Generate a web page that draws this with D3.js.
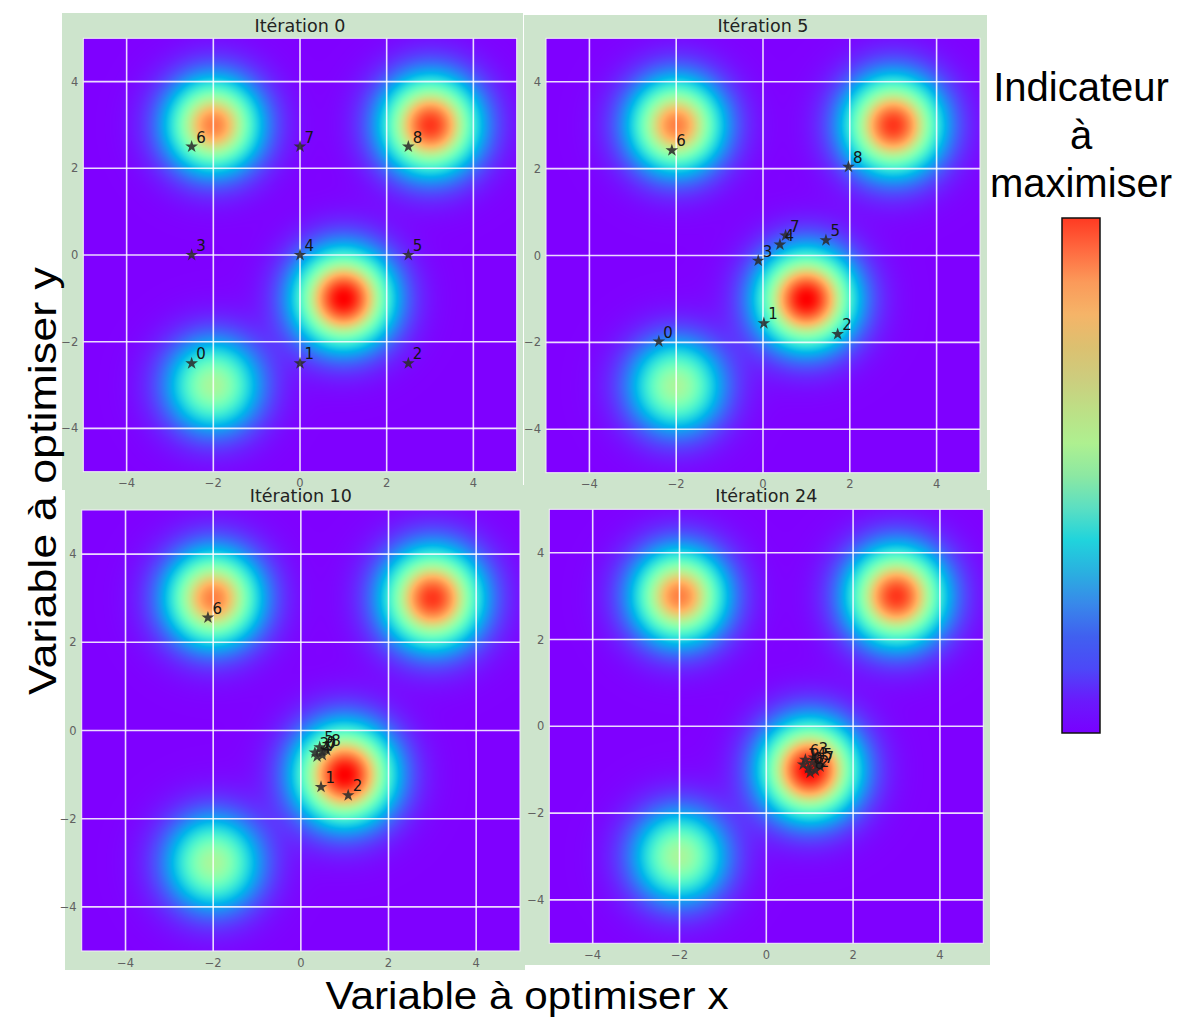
<!DOCTYPE html>
<html>
<head>
<meta charset="utf-8">
<script src="https://cdn.jsdelivr.net/npm/d3@7"></script>
<style>
  body { margin: 0; background: #fff; }
  svg { display: block; }
</style>
</head>
<body>
<svg id="chart" width="1179" height="1018"></svg>
<script>
// objective function: sum of gaussian bumps
const peakX = [1, 3, -2, -2];
const peakY = [-1, 3, 3, -3];
const peakAmp = [1.0, 0.93, 0.83, 0.58];
const peakSigma = [0.74, 0.74, 0.72, 0.72];

const iterations = ["Itération 0", "Itération 5", "Itération 10", "Itération 24"];
const pointLabels = ["0", "1", "2", "3", "4", "5", "6", "7", "8"];

// particle positions per iteration
const it0X = [-2.5, 0, 2.5, -2.5, 0, 2.5, -2.5, 0, 2.5];
const it0Y = [-2.5, -2.5, -2.5, 0, 0, 0, 2.5, 2.5, 2.5];
const it5X = [-2.40, 0.02, 1.72, -0.11, 0.39, 1.45, -2.10, 0.52, 1.97];
const it5Y = [-1.98, -1.56, -1.81, -0.12, 0.25, 0.35, 2.42, 0.46, 2.04];
const it10X = [0.48, 0.46, 1.08, 0.32, 0.37, 0.43, -2.12, 0.49, 0.59];
const it10Y = [-0.48, -1.28, -1.47, -0.50, -0.59, -0.38, 2.56, -0.56, -0.45];
const it24X = [0.97, 0.85, 1.13, 1.10, 1.06, 1.20, 0.90, 1.24, 1.01];
const it24Y = [-0.97, -0.88, -1.02, -0.72, -0.84, -0.88, -0.77, -0.93, -1.07];

const tickValues = [-4, -2, 0, 2, 4];
const domainMin = -5, domainMax = 5;

// colorbar colours, bottom -> top
const cbarColors = ["#7800ff", "#6a1afc", "#4c48f8", "#4060f0", "#3888ea", "#2ab0e0",
  "#20d4dc", "#5cdfc2", "#8ce8a2", "#aef090", "#bce086", "#cccd7e", "#dcc070",
  "#f5b468", "#fb9a5a", "#ff6a40", "#ff3a22"];

const allX = [it0X, it5X, it10X, it24X];
const allY = [it0Y, it5Y, it10Y, it24Y];

// panel boxes: background [x0,y0,x1,y1], plot area [x0,y0,x1,y1]
const panels = [
  { bg: [62, 13, 523, 490], plot: [83.3, 38.3, 516.7, 471.7], titleY: 31.5 },
  { bg: [524, 15, 987, 490], plot: [546, 38.3, 980, 472.7], titleY: 31.5 },
  { bg: [65, 485, 525, 970], plot: [81.7, 510, 520, 951], titleY: 502 },
  { bg: [524, 490, 990, 965], plot: [549.3, 509.3, 983.3, 943.3], titleY: 502 }
];

const svg = d3.select("#chart");
const fmt = d => d < 0 ? "\u2212" + Math.abs(d) : String(d);

function field(x, y) {
  let v = 0;
  for (let k = 0; k < peakX.length; k++) {
    const dx = x - peakX[k], dy = y - peakY[k];
    v += peakAmp[k] * Math.exp(-(dx * dx + dy * dy) / (2 * peakSigma[k] * peakSigma[k]));
  }
  return v;
}

// matplotlib "rainbow"
function rainbow(t) {
  t = Math.max(0, Math.min(1, t));
  return [
    Math.min(1, Math.abs(2 * t - 0.5)) * 255,
    Math.sin(Math.PI * t) * 255,
    Math.cos(Math.PI * t / 2) * 255
  ];
}
const norm = d3.scaleLinear().domain([0, 1]).clamp(true);

// backgrounds first
svg.selectAll("rect.bg").data(panels).enter().append("rect")
  .attr("class", "bg")
  .attr("x", d => d.bg[0]).attr("y", d => d.bg[1])
  .attr("width", d => d.bg[2] - d.bg[0]).attr("height", d => d.bg[3] - d.bg[1])
  .attr("fill", "#cde4cc");

panels.forEach((p, i) => {
  const x = d3.scaleLinear().domain([domainMin, domainMax]).range([p.plot[0], p.plot[2]]);
  const y = d3.scaleLinear().domain([domainMin, domainMax]).range([p.plot[3], p.plot[1]]);
  const w = Math.round(p.plot[2] - p.plot[0]), h = Math.round(p.plot[3] - p.plot[1]);

  // heatmap image
  const canvas = document.createElement("canvas");
  canvas.width = w; canvas.height = h;
  const ctx = canvas.getContext("2d");
  const img = ctx.createImageData(w, h);
  for (let py = 0; py < h; py++) {
    const yv = y.invert(p.plot[1] + py + 0.5);
    for (let px = 0; px < w; px++) {
      const xv = x.invert(p.plot[0] + px + 0.5);
      const c = rainbow(norm(field(xv, yv)));
      const o = (py * w + px) * 4;
      img.data[o] = c[0]; img.data[o + 1] = c[1]; img.data[o + 2] = c[2]; img.data[o + 3] = 255;
    }
  }
  ctx.putImageData(img, 0, 0);

  const g = svg.append("g");
  g.append("image")
    .attr("x", p.plot[0]).attr("y", p.plot[1])
    .attr("width", p.plot[2] - p.plot[0]).attr("height", p.plot[3] - p.plot[1])
    .attr("preserveAspectRatio", "none")
    .attr("href", canvas.toDataURL());

  // grid
  g.selectAll("line.vx").data(tickValues).enter().append("line")
    .attr("x1", d => x(d)).attr("x2", d => x(d))
    .attr("y1", p.plot[1]).attr("y2", p.plot[3])
    .attr("stroke", "#fff").attr("stroke-opacity", 0.85).attr("stroke-width", 1.6);
  g.selectAll("line.hy").data(tickValues).enter().append("line")
    .attr("y1", d => y(d)).attr("y2", d => y(d))
    .attr("x1", p.plot[0]).attr("x2", p.plot[2])
    .attr("stroke", "#fff").attr("stroke-opacity", 0.85).attr("stroke-width", 1.6);
  g.append("rect")
    .attr("x", p.plot[0]).attr("y", p.plot[1])
    .attr("width", p.plot[2] - p.plot[0]).attr("height", p.plot[3] - p.plot[1])
    .attr("fill", "none").attr("stroke", "#f4eef8").attr("stroke-width", 1);

  // tick labels
  g.selectAll("text.xt").data(tickValues).enter().append("text")
    .attr("x", d => x(d)).attr("y", p.plot[3] + 15.5)
    .attr("text-anchor", "middle")
    .attr("font-family", "DejaVu Sans").attr("font-size", 11.5).attr("fill", "#606060")
    .text(fmt);
  g.selectAll("text.yt").data(tickValues).enter().append("text")
    .attr("x", p.plot[0] - 5).attr("y", d => y(d) + 4)
    .attr("text-anchor", "end")
    .attr("font-family", "DejaVu Sans").attr("font-size", 11.5).attr("fill", "#606060")
    .text(fmt);

  // title
  g.append("text")
    .attr("x", (p.plot[0] + p.plot[2]) / 2).attr("y", p.titleY)
    .attr("text-anchor", "middle")
    .attr("font-family", "DejaVu Sans").attr("font-size", 17.5).attr("fill", "#222")
    .text(iterations[i]);

  // particles
  const pts = pointLabels.map((lab, k) => ({ lab, px: allX[i][k], py: allY[i][k] }));
  const star = d3.symbol(d3.symbolStar, 50)();
  g.selectAll("path.star").data(pts).enter().append("path")
    .attr("d", star)
    .attr("transform", d => `translate(${x(d.px)},${y(d.py)})`)
    .attr("fill", "#2c2c2c").attr("fill-opacity", 0.88);
  g.selectAll("text.lab").data(pts).enter().append("text")
    .attr("x", d => x(d.px) + 4.5).attr("y", d => y(d.py) - 4)
    .attr("font-family", "DejaVu Sans").attr("font-size", 15).attr("fill", "#151515")
    .text(d => d.lab);
});

// axis titles
svg.append("text")
  .attr("x", 527).attr("y", 1009)
  .attr("text-anchor", "middle")
  .attr("font-family", "Liberation Sans, Arial, sans-serif").attr("font-size", 38)
  .attr("textLength", 403).attr("lengthAdjust", "spacingAndGlyphs")
  .attr("fill", "#000")
  .text("Variable à optimiser x");
svg.append("text")
  .attr("transform", "translate(56,481) rotate(-90)")
  .attr("text-anchor", "middle")
  .attr("font-family", "Liberation Sans, Arial, sans-serif").attr("font-size", 38)
  .attr("textLength", 428).attr("lengthAdjust", "spacingAndGlyphs")
  .attr("fill", "#000")
  .text("Variable à optimiser y");

// colorbar
const defs = svg.append("defs");
const grad = defs.append("linearGradient").attr("id", "cbar")
  .attr("x1", 0).attr("y1", 1).attr("x2", 0).attr("y2", 0);
const stopPos = d3.scaleLinear().domain([0, cbarColors.length - 1]).range([0, 100]);
grad.selectAll("stop").data(cbarColors).enter().append("stop")
  .attr("offset", (d, k) => stopPos(k) + "%")
  .attr("stop-color", d => d);
svg.append("rect")
  .attr("x", 1062).attr("y", 218).attr("width", 38).attr("height", 515)
  .attr("fill", "url(#cbar)").attr("stroke", "#111").attr("stroke-width", 1.5);

const cbTitle = ["Indicateur", "à", "maximiser"];
svg.selectAll("text.cb").data(cbTitle).enter().append("text")
  .attr("x", 1081).attr("y", (d, k) => 101 + k * 48)
  .attr("text-anchor", "middle")
  .attr("font-family", "Liberation Sans, Arial, sans-serif").attr("font-size", 40)
  .attr("fill", "#000")
  .text(d => d);
</script>
</body>
</html>
